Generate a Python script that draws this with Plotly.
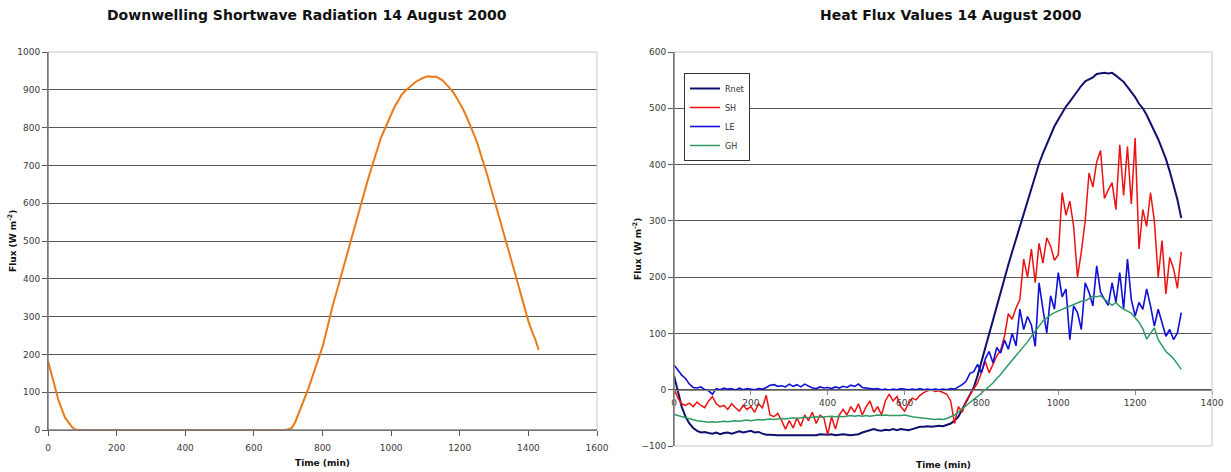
import plotly.graph_objects as go

# Downwelling shortwave radiation, 10-minute samples (W m-2)
sw_time = list(range(0, 1440, 10))
sw_flux = [
    183, 150, 112, 80, 55, 32, 20, 8, 1, 0,
    0, 0, 0, 0, 0, 0, 0, 0, 0, 0,
    0, 0, 0, 0, 0, 0, 0, 0, 0, 0,
    0, 0, 0, 0, 0, 0, 0, 0, 0, 0,
    0, 0, 0, 0, 0, 0, 0, 0, 0, 0,
    0, 0, 0, 0, 0, 0, 0, 0, 0, 0,
    0, 0, 0, 0, 0, 0, 0, 0, 0, 0,
    2, 5, 20, 42, 68, 90, 112, 140, 165, 190,
    220, 255, 295, 330, 362, 395, 430, 462, 495, 528,
    560, 592, 625, 655, 685, 715, 745, 772, 793, 815,
    838, 855, 870, 886, 896, 905, 912, 920, 926, 930,
    934, 936, 934, 935, 930, 925, 915, 905, 895, 880,
    865, 848, 828, 808, 785, 762, 735, 705, 675, 643,
    612, 580, 548, 515, 482, 450, 418, 385, 350, 318,
    288, 262, 240, 212,
]

# Surface energy balance terms, 10-minute samples (W m-2)
hf_time = list(range(0, 1330, 10))
rnet = [
    25, -2, -30, -48, -60, -68, -73, -76, -75, -77,
    -78, -76, -79, -77, -76, -78, -76, -74, -76, -75,
    -73, -76, -75, -78, -80, -80, -81, -81, -81, -81,
    -80, -81, -81, -80, -81, -80, -80, -81, -79, -80,
    -80, -79, -81, -80, -79, -80, -81, -80, -79, -76,
    -74, -72, -70, -72, -73, -71, -72, -70, -72, -70,
    -71, -72, -70, -68, -66, -66, -65, -66, -65, -64,
    -65, -62, -60, -55, -48, -35, -22, -8, 4, 25,
    50, 75, 100, 125, 150, 175, 200, 222, 245, 268,
    290, 312, 335, 358, 380, 402, 420, 437, 452, 468,
    480, 492, 503, 512, 522, 532, 540, 548, 551, 555,
    561, 562, 563, 562, 563, 558, 552, 547, 538, 530,
    520, 508, 500, 488, 474, 460, 445, 428, 410, 388,
    365, 338, 305,
]
sh = [
    3, -15, -25, -28, -24, -30, -22, -28, -32, -20,
    -12, -25, -30, -28, -35, -25, -32, -38, -28, -35,
    -30, -40, -25, -32, -10, -45, -48, -42, -55, -70,
    -55, -68, -50, -65, -45, -55, -40, -60, -45, -50,
    -80, -48, -70, -45, -35, -45, -30, -40, -25, -45,
    -30, -20, -40, -30, -45, -20, -8, -20, -12, -30,
    -38, -25, -15, -18, -10, -5, -2, 0, -3, -2,
    -5, -8, -20, -60, -30, -40, -20, -10, 2, 12,
    30, 50, 30, 45, 60, 70, 95, 135, 125, 145,
    160, 232, 200, 250, 190, 260, 225, 270, 255, 230,
    240, 350, 310, 335, 290, 200, 245, 300, 385, 360,
    405, 425, 340, 355, 368, 320, 435, 345, 432, 330,
    447, 250, 320, 290, 350, 300, 200, 265, 170, 235,
    215, 180, 245,
]
le = [
    44, 34, 26, 20, 10, 4, 3, 5, 0, -2,
    -8, 2, 0, 3, 1, 2, -1, 3, 0, 2,
    1, 0, 2, 1, 4, 8, 9, 6, 7, 5,
    10, 6, 9, 5, 10, 6, 3, 2, 5, 3,
    4, 2, 5, 3, 6, 4, 8, 6, 10, 4,
    3, 2, 1, 2, 0, 1, -1, 1, 0, 2,
    1, 0, 1, 0, 2, 0, 1, 0, 1, 0,
    1, 0, 2, 1, 5, 9, 15, 29, 32, 45,
    30, 55, 68, 48, 75, 65, 88, 72, 100, 78,
    143, 107, 130, 115, 77, 190, 143, 101, 167, 143,
    208, 165, 179, 89, 149, 137, 107, 190, 173, 149,
    220, 173, 161, 150, 190, 155, 208, 143, 232, 160,
    131, 155, 143, 179, 149, 113, 143, 120, 95, 107,
    89, 101, 137,
]
gh = [
    -44, -46, -48, -50, -52, -54, -55, -56, -57, -58,
    -57, -58, -57, -56, -57, -56, -55, -56, -55, -54,
    -55, -54, -53, -54, -53, -52, -53, -52, -51, -52,
    -51, -50, -51, -50, -49, -50, -49, -48, -49, -48,
    -48, -47, -48, -47, -48, -47, -46, -47, -46, -47,
    -46, -47, -46, -45, -46, -45, -46, -46, -47, -46,
    -45, -47, -48, -49, -50, -51, -52, -53, -53, -52,
    -53, -51, -48, -45, -40, -34, -28, -22, -17, -12,
    -6, 0, 6, 12, 20, 27, 36, 44, 53, 60,
    68, 78, 85, 95, 105, 113, 122, 128, 133, 137,
    140, 143, 146, 148, 152, 154, 157, 158, 162, 166,
    165, 167, 161, 155, 150, 155, 148, 143, 140, 136,
    128, 120, 108, 90, 100, 110, 89, 78, 68, 62,
    55, 46, 36,
]

sw_xticks = list(range(0, 1601, 200))
sw_yticks = list(range(0, 1001, 100))
hf_xticks = list(range(0, 1401, 200))
hf_yticks = list(range(-100, 601, 100))

W, H = 1231, 472
FONT = "DejaVu Sans"
GRID = "#595959"
BORDER = "#c8c8c8"
AXIS = "#5a5a5a"
TICKFONT = dict(family=FONT, size=9, color="#3a3a3a")

# plot areas in pixels: (left, right, top, bottom)
L_BOX = (48, 597, 52, 430)
R_BOX = (674, 1212, 52, 446)


def xdom(b):
    return [b[0] / W, b[1] / W]


def ydom(b):
    return [(H - b[3]) / H, (H - b[2]) / H]


fig = go.Figure()

fig.add_trace(go.Scatter(
    x=sw_time, y=sw_flux, mode="lines", name="SW",
    line=dict(color="#EC7A18", width=2), showlegend=False,
    xaxis="x", yaxis="y",
))

series = [
    ("Rnet", rnet, "#10106e", 2),
    ("SH", sh, "#ee1111", 1.5),
    ("LE", le, "#1010d8", 1.6),
    ("GH", gh, "#2e9a66", 1.5),
]
for name, vals, color, width in series:
    fig.add_trace(go.Scatter(
        x=hf_time, y=vals, mode="lines", name=name,
        line=dict(color=color, width=width),
        xaxis="x2", yaxis="y2",
    ))

ld, rd = ydom(L_BOX), ydom(R_BOX)
zero_pos = rd[0] + (rd[1] - rd[0]) * (0 - hf_yticks[0]) / (hf_yticks[-1] - hf_yticks[0])

fig.update_layout(
    width=W, height=H, margin=dict(l=0, r=0, t=0, b=0),
    paper_bgcolor="white", plot_bgcolor="white",
    font=dict(family=FONT, color="#222"),
    xaxis=dict(
        domain=xdom(L_BOX), anchor="y", range=[0, 1600],
        tickvals=sw_xticks, ticks="outside", ticklen=5, tickcolor=AXIS,
        showline=True, linecolor=AXIS, linewidth=1,
        showgrid=False, zeroline=False, tickfont=TICKFONT,
        automargin=False, ticklabelstandoff=4,
    ),
    yaxis=dict(
        domain=ld, anchor="x", range=[0, 1000],
        tickvals=sw_yticks, ticks="outside", ticklen=5, tickcolor=AXIS,
        showline=True, linecolor=AXIS, linewidth=1,
        showgrid=True, gridcolor=GRID, gridwidth=1,
        zeroline=False, tickfont=TICKFONT, automargin=False,
    ),
    xaxis2=dict(
        domain=xdom(R_BOX), anchor="free", position=zero_pos,
        range=[0, 1400], tickvals=hf_xticks, ticks="outside", ticklen=4,
        tickcolor="#8a8a8a", showline=True, linecolor="#8a8a8a", linewidth=1,
        showgrid=False, zeroline=False, tickfont=TICKFONT, automargin=False,
    ),
    yaxis2=dict(
        domain=rd, anchor="x2", range=[-100, 600],
        tickvals=hf_yticks, ticks="outside", ticklen=5, tickcolor=AXIS,
        showline=True, linecolor=AXIS, linewidth=1,
        showgrid=True, gridcolor=GRID, gridwidth=1,
        zeroline=False, tickfont=TICKFONT, automargin=False,
    ),
    legend=dict(
        x=684 / W, y=(H - 73) / H, xanchor="left", yanchor="top",
        bgcolor="white", bordercolor="#333", borderwidth=1,
        font=dict(family=FONT, size=8, color="#333"),
        itemwidth=30, tracegroupgap=0,
    ),
)

# light frame around both plot areas (covers the edge gridlines)
for xr, yr in (("x domain", "y domain"), ("x2 domain", "y2 domain")):
    fig.add_shape(type="rect", xref=xr, yref=yr, x0=0, x1=1, y0=0, y1=1,
                  line=dict(color=BORDER, width=1), layer="above")
# keep the left value axes dark on top of the frame
for yr, xr in (("y domain", "x domain"), ("y2 domain", "x2 domain")):
    fig.add_shape(type="line", xref=xr, yref=yr, x0=0, x1=0, y0=0, y1=1,
                  line=dict(color=AXIS, width=1), layer="above")
fig.add_shape(type="line", xref="x domain", yref="y domain", x0=0, x1=1, y0=0, y1=0,
              line=dict(color=AXIS, width=1), layer="above")

title_font = dict(family=FONT, size=14, color="#111")
label_font = dict(family=FONT, size=9, color="#111")


def ann(text, x, y, font, angle=0):
    fig.add_annotation(text=text, x=x / W, y=(H - y) / H, xref="paper", yref="paper",
                       showarrow=False, font=font, textangle=angle,
                       xanchor="center", yanchor="middle")


ann("<b>Downwelling Shortwave Radiation 14 August 2000</b>", 307, 15, title_font)
ann("<b>Heat Flux Values 14 August 2000</b>", 951, 15, title_font)
ann("<b>Time (min)</b>", (L_BOX[0] + L_BOX[1]) / 2, 463, label_font)
ann("<b>Time (min)</b>", (R_BOX[0] + R_BOX[1]) / 2, 465, label_font)
ann("<b>Flux (W m<sup>-2</sup>)</b>", 12, (L_BOX[2] + L_BOX[3]) / 2, label_font, -90)
ann("<b>Flux (W m<sup>-2</sup>)</b>", 637, (R_BOX[2] + R_BOX[3]) / 2, label_font, -90)

fig.write_html("out.html")
